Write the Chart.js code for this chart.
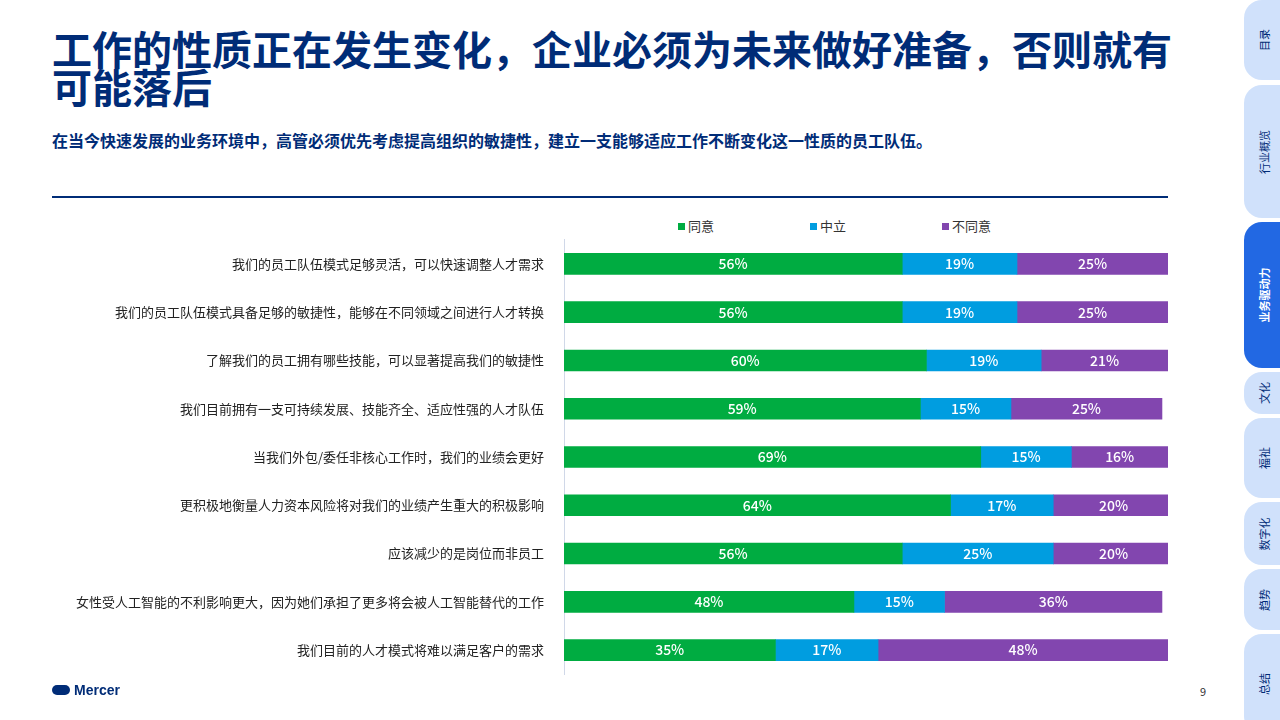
<!DOCTYPE html>
<html><head><meta charset="utf-8">
<script src="https://cdn.jsdelivr.net/npm/chart.js@4"></script>
<style>
body{margin:0;width:1280px;height:720px;background:#fff;font-family:"Noto Sans CJK SC","Noto Sans",sans-serif;position:relative;overflow:hidden}
h1{position:absolute;left:52px;top:29px;margin:0;font-size:40px;line-height:38px;color:#002c77;font-weight:700;width:1130px}
.sub{position:absolute;left:52px;top:128px;font-size:16px;font-weight:700;color:#002c77}
.rule{position:absolute;left:52px;top:196px;width:1116px;height:2px;background:#002c77}
.leg{position:absolute;top:216px;font-size:13px;color:#333}
.leg i{display:inline-block;width:7px;height:7px;margin-right:3px;vertical-align:1px}
.tab{position:absolute;left:1244px;width:60px;background:#d0e1fb;border-radius:18px;}
.tab span{position:absolute;left:20px;top:50%;transform:translate(-50%,-50%) rotate(-90deg);white-space:nowrap;font-size:11px;color:#002c77}
.tab.act{background:#2268e3}.tab.act span{color:#fff;font-weight:700}
.logo{position:absolute;left:52px;top:682px;font-size:14px;font-weight:700;color:#002c77;font-family:"Liberation Sans",sans-serif}
.pg{position:absolute;left:1200px;top:683px;font-size:11px;color:#333}
#wrap{position:absolute;left:0;top:220px;width:1180px;height:474px}
</style></head><body>
<h1>工作的性质正在发生变化，企业必须为未来做好准备，否则就有可能落后</h1>
<div class="sub">在当今快速发展的业务环境中，高管必须优先考虑提高组织的敏捷性，建立一支能够适应工作不断变化这一性质的员工队伍。</div>
<div class="rule"></div>
<div class="leg" style="left:678px"><i style="background:#00ac41"></i>同意</div>
<div class="leg" style="left:810px"><i style="background:#009de0"></i>中立</div>
<div class="leg" style="left:942px"><i style="background:#8246af"></i>不同意</div>
<div id="wrap"><canvas id="c"></canvas></div>
<div class="tab" style="top:0;height:80px"><span>目录</span></div>
<div class="tab" style="top:85px;height:133px"><span>行业概览</span></div>
<div class="tab act" style="top:222px;height:146px"><span>业务驱动力</span></div>
<div class="tab" style="top:372px;height:42px"><span>文化</span></div>
<div class="tab" style="top:418px;height:80px"><span>福祉</span></div>
<div class="tab" style="top:502px;height:63px"><span>数字化</span></div>
<div class="tab" style="top:569px;height:61px"><span>趋势</span></div>
<div class="tab" style="top:634px;height:100px"><span>总结</span></div>
<div class="logo"><span style="display:inline-block;width:18px;height:10px;background:#002c77;border-radius:5px;margin-right:4px"></span>Mercer</div>
<div class="pg">9</div>
<script>
const categories=["我们的员工队伍模式足够灵活，可以快速调整人才需求","我们的员工队伍模式具备足够的敏捷性，能够在不同领域之间进行人才转换","了解我们的员工拥有哪些技能，可以显著提高我们的敏捷性","我们目前拥有一支可持续发展、技能齐全、适应性强的人才队伍","当我们外包/委任非核心工作时，我们的业绩会更好","更积极地衡量人力资本风险将对我们的业绩产生重大的积极影响","应该减少的是岗位而非员工","女性受人工智能的不利影响更大，因为她们承担了更多将会被人工智能替代的工作","我们目前的人才模式将难以满足客户的需求"];
const agree=[56,56,60,59,69,64,56,48,35];
const neutral=[19,19,19,15,15,17,25,15,17];
const disagree=[25,25,21,25,16,20,20,36,48];
const lbl={id:'lbl',afterDatasetsDraw(ch){const c=ch.ctx;c.save();c.fillStyle='#fff';c.font='500 14px "Noto Sans CJK SC"';c.textAlign='center';c.textBaseline='middle';
ch.data.datasets.forEach((d,i)=>ch.getDatasetMeta(i).data.forEach((b,j)=>{c.fillText(d.data[j]+'%',(b.x+b.base)/2,b.y)}));c.restore();}};
new Chart(document.getElementById('c'),{type:'bar',
data:{labels:categories,datasets:[
{label:'同意',data:agree,backgroundColor:'#00ac41'},
{label:'中立',data:neutral,backgroundColor:'#009de0'},
{label:'不同意',data:disagree,backgroundColor:'#8246af'}]},
options:{indexAxis:'y',responsive:true,maintainAspectRatio:false,animation:false,
barThickness:21,
layout:{padding:{right:12,top:0,bottom:0}},
plugins:{legend:{display:false},tooltip:{enabled:false}},
scales:{x:{stacked:true,min:0,max:100,display:false},
y:{stacked:true,afterFit(s){s.width=564;},grid:{display:false},border:{color:'#d0d8e8'},
ticks:{color:'#222',font:{size:13,family:'"Noto Sans CJK SC"'},padding:12}}}},
plugins:[lbl]});
</script></body></html>
